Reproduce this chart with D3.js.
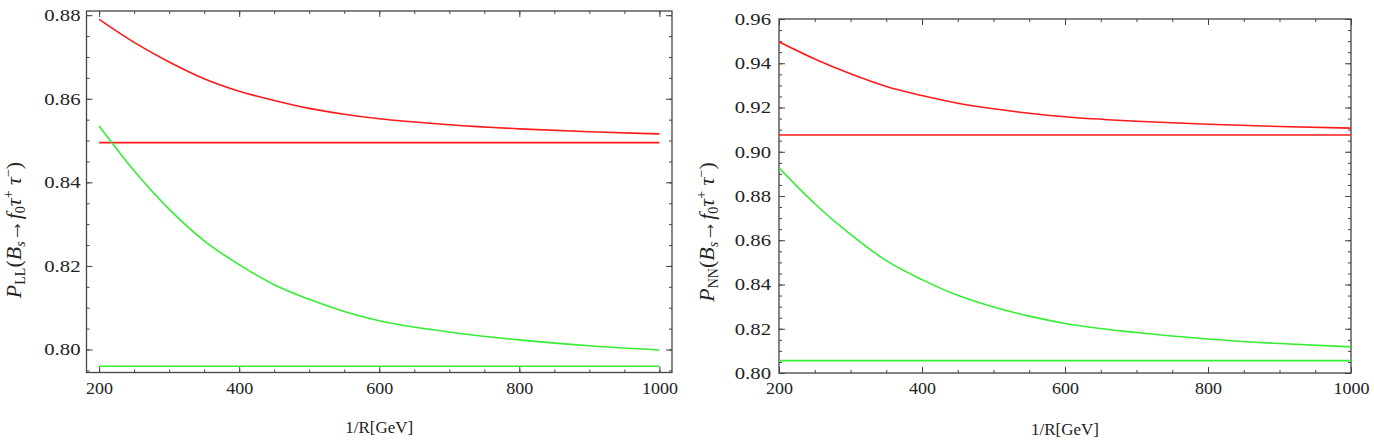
<!DOCTYPE html>
<html>
<head>
<meta charset="utf-8">
<script src="https://cdn.jsdelivr.net/npm/d3@7/dist/d3.min.js"></script>
<style>
  html, body { margin: 0; padding: 0; background: #fff; }
  svg { display: block; }
  text { font-family: "Liberation Serif", "Times New Roman", serif; fill: #222; }
</style>
</head>
<body>
<svg id="chart" width="1374" height="440"></svg>
<script>
// ---- data ----
const xValues = [200, 250, 300, 350, 400, 450, 500, 550, 600, 700, 800, 900, 1000];
const flatX = [200, 1000];

// left panel: P_LL
const llRedCurve   = [0.8790, 0.8735, 0.8688, 0.8648, 0.8618, 0.8596, 0.8577, 0.8563, 0.8552, 0.8538, 0.8528, 0.8521, 0.8516];
const llGreenCurve = [0.8535, 0.8428, 0.8336, 0.8260, 0.8203, 0.8155, 0.8120, 0.8091, 0.8069, 0.8042, 0.8023, 0.8009, 0.7999];
const llRedFlat    = [0.8495, 0.8495];
const llGreenFlat  = [0.7960, 0.7960];

// right panel: P_NN
const nnRedCurve   = [0.9497, 0.9419, 0.9352, 0.9295, 0.9254, 0.9219, 0.9194, 0.9174, 0.9158, 0.9138, 0.9124, 0.9114, 0.9107];
const nnGreenCurve = [0.8927, 0.8765, 0.8626, 0.8508, 0.8422, 0.8351, 0.8298, 0.8257, 0.8224, 0.8183, 0.8154, 0.8133, 0.8118];
const nnRedFlat    = [0.9076, 0.9076];
const nnGreenFlat  = [0.8056, 0.8056];

const xTicks = [200, 400, 600, 800, 1000];
const xMinorTicks = d3.range(200, 1001, 50);
const llYTicks = [0.80, 0.82, 0.84, 0.86, 0.88];
const nnYTicks = [0.80, 0.82, 0.84, 0.86, 0.88, 0.90, 0.92, 0.94, 0.96];

const RED = "#ff1a1a";
const GREEN = "#33ee33";
const FRAME = "#444";
const Y_STRETCH = 1.22;
const X_STRETCH = 1.06;

const svg = d3.select("#chart");

function panel(cfg) {
  const x = d3.scaleLinear().domain(cfg.xDomain).range(cfg.xRange);
  const y = d3.scaleLinear().domain(cfg.yDomain).range(cfg.yRange);
  const g = svg.append("g");
  const [x0, x1] = cfg.xRange;
  const [y0, y1] = cfg.yRange; // y0 bottom, y1 top

  const clipId = "clip" + cfg.id;
  svg.append("clipPath").attr("id", clipId).append("rect")
    .attr("x", x0).attr("y", y1).attr("width", x1 - x0).attr("height", y0 - y1);

  const yMinor = d3.range(Math.ceil(cfg.yDomain[0] / 0.005 - 1e-9), Math.floor(cfg.yDomain[1] / 0.005 + 1e-9) + 1)
    .map(k => +(k * 0.005).toFixed(4));

  const fmt = d3.format(".2f");
  // bottom axis (labels)
  g.append("g").attr("transform", `translate(0,${y0})`)
    .call(d3.axisBottom(x).tickValues(xMinorTicks).tickSize(-3).tickFormat(""))
    .call(a => a.select(".domain").remove());
  g.append("g").attr("transform", `translate(0,${y0})`)
    .call(d3.axisBottom(x).tickValues(xTicks).tickSize(-6).tickPadding(9).tickFormat(d3.format("d")))
    .call(a => a.select(".domain").remove())
    .call(a => a.selectAll("text").attr("font-size", 17).attr("fill", "#222")
      .attr("transform", `scale(${X_STRETCH},1)`));
  // top axis
  g.append("g").attr("transform", `translate(0,${y1})`)
    .call(d3.axisTop(x).tickValues(xMinorTicks).tickSize(-3).tickFormat(""))
    .call(a => a.select(".domain").remove());
  g.append("g").attr("transform", `translate(0,${y1})`)
    .call(d3.axisTop(x).tickValues(xTicks).tickSize(-6).tickFormat(""))
    .call(a => a.select(".domain").remove());
  // left axis
  g.append("g").attr("transform", `translate(${x0},0)`)
    .call(d3.axisLeft(y).tickValues(yMinor).tickSize(-3).tickFormat(""))
    .call(a => a.select(".domain").remove());
  g.append("g").attr("transform", `translate(${x0},0)`)
    .call(d3.axisLeft(y).tickValues(cfg.yTicks).tickSize(-6).tickPadding(cfg.yPad / Y_STRETCH).tickFormat(fmt))
    .call(a => a.select(".domain").remove())
    .call(a => a.selectAll("text").attr("font-size", 17).attr("fill", "#222")
      .attr("transform", `scale(${Y_STRETCH},1)`));
  // right axis
  g.append("g").attr("transform", `translate(${x1},0)`)
    .call(d3.axisRight(y).tickValues(yMinor).tickSize(-3).tickFormat(""))
    .call(a => a.select(".domain").remove());
  g.append("g").attr("transform", `translate(${x1},0)`)
    .call(d3.axisRight(y).tickValues(cfg.yTicks).tickSize(-6).tickFormat(""))
    .call(a => a.select(".domain").remove());
  g.selectAll(".tick line").attr("stroke", FRAME).attr("stroke-width", 1);

  // frame
  g.append("rect").attr("x", x0).attr("y", y1).attr("width", x1 - x0).attr("height", y0 - y1)
    .attr("fill", "none").attr("stroke", FRAME).attr("stroke-width", 1.3);

  const line = d3.line().x(d => x(d[0])).y(d => y(d[1])).curve(d3.curveMonotoneX);
  const plot = g.append("g").attr("clip-path", `url(#${clipId})`);
  const series = [
    { xs: flatX, ys: cfg.redFlat, c: RED },
    { xs: flatX, ys: cfg.greenFlat, c: GREEN },
    { xs: xValues, ys: cfg.redCurve, c: RED },
    { xs: xValues, ys: cfg.greenCurve, c: GREEN }
  ];
  series.forEach(s => {
    plot.append("path").datum(s.xs.map((v, i) => [v, s.ys[i]]))
      .attr("fill", "none").attr("stroke", s.c).attr("stroke-width", 1.6)
      .attr("d", line);
  });

  // x label
  g.append("text").attr("x", (x0 + x1) / 2).attr("y", cfg.xLabelY)
    .attr("text-anchor", "middle").attr("font-size", 17).text("1/R[GeV]");

  // y label
  const t = g.append("text")
    .attr("transform", `translate(${cfg.yLabelX},${cfg.yLabelCenter}) rotate(-90)`)
    .attr("text-anchor", "middle").attr("font-size", 22);
  t.append("tspan").attr("font-style", "italic").text("P");
  t.append("tspan").attr("font-size", 14).attr("dy", 4).text(cfg.sub);
  t.append("tspan").attr("dy", -4).text("(");
  t.append("tspan").attr("font-style", "italic").text("B");
  t.append("tspan").attr("font-style", "italic").attr("font-size", 14).attr("dy", 4).text("s");
  t.append("tspan").attr("dy", -4).text("\u2192");
  t.append("tspan").attr("font-style", "italic").text("f");
  t.append("tspan").attr("font-size", 14).attr("dy", 4).text("0");
  t.append("tspan").attr("dy", -4).attr("font-style", "italic").text("\u03c4");
  t.append("tspan").attr("font-size", 14).attr("dy", -8).text("+");
  t.append("tspan").attr("dy", 8).attr("font-style", "italic").text(" \u03c4");
  t.append("tspan").attr("font-size", 14).attr("dy", -8).text("\u2212");
  t.append("tspan").attr("dy", 8).text(")");
}

panel({
  id: "L",
  xDomain: [182, 1018], xRange: [86.5, 672],
  yDomain: [0.7945, 0.881], yRange: [372.5, 11],
  yTicks: llYTicks, yPad: 6,
  redCurve: llRedCurve, greenCurve: llGreenCurve, redFlat: llRedFlat, greenFlat: llGreenFlat,
  sub: "LL", xLabelY: 433, yLabelX: 21, yLabelCenter: 230
});

panel({
  id: "R",
  xDomain: [200, 1000], xRange: [779, 1351],
  yDomain: [0.80, 0.96], yRange: [373, 19],
  yTicks: nnYTicks, yPad: 8,
  redCurve: nnRedCurve, greenCurve: nnGreenCurve, redFlat: nnRedFlat, greenFlat: nnGreenFlat,
  sub: "NN", xLabelY: 435, yLabelX: 714, yLabelCenter: 232
});
</script>
</body>
</html>
